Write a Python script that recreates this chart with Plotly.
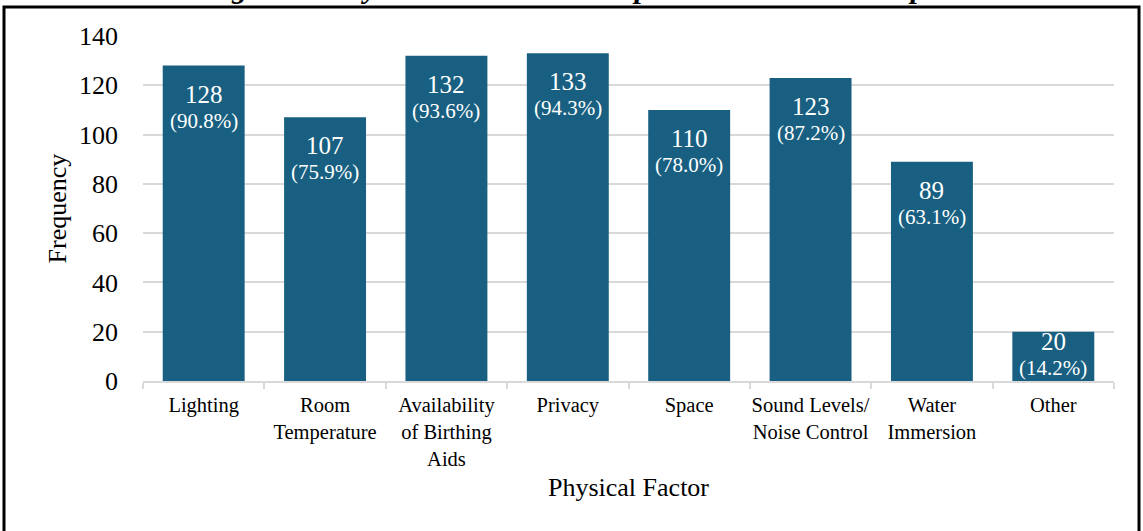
import plotly.graph_objects as go

# Physical factors reported and how many respondents selected each
factors = ["Lighting", "Room<br>Temperature", "Availability<br>of Birthing<br>Aids", "Privacy",
           "Space", "Sound Levels/<br>Noise Control", "Water<br>Immersion", "Other"]
frequency = [128, 107, 132, 133, 110, 123, 89, 20]
percent = [90.8, 75.9, 93.6, 94.3, 78.0, 87.2, 63.1, 14.2]

y_ticks = [0, 20, 40, 60, 80, 100, 120, 140]

SERIF = "Liberation Serif, Times New Roman, serif"
BAR = "#185F81"
GRID = "#D9D9D9"

# Plot-area geometry in pixels
W, H = 1143, 531
M_L, M_R, M_T, M_B = 143, 29, 36, 150
plot_h = H - M_T - M_B
y_max = 140
px_per_unit = plot_h / y_max

fig = go.Figure(go.Bar(
    x=factors, y=frequency,
    marker=dict(color=BAR, line=dict(width=0)),
    hoverinfo="skip",
))

# Value labels inside the top of each bar; short bars push the block upward
annotations = []
for f, v, p in zip(factors, frequency, percent):
    bar_px = v * px_per_unit
    lift = max(0.0, 68 - bar_px)
    annotations.append(dict(
        x=f, y=v, xref="x", yref="y", text=f"{v}", showarrow=False,
        yanchor="top", yshift=-13 + lift,
        font=dict(family=SERIF, size=25, color="white")))
    annotations.append(dict(
        x=f, y=v, xref="x", yref="y", text=f"({p:.1f}%)", showarrow=False,
        yanchor="top", yshift=-41 + lift,
        font=dict(family=SERIF, size=21, color="white")))

# Figure caption sitting just above the frame
annotations.append(dict(
    x=0.48, y=(H - M_B - 6) / plot_h, xref="paper", yref="paper", showarrow=False,
    xanchor="center", yanchor="bottom",
    text="<b><i>Figure 6: Physical Factors that Impact the Childbirth Experience</i></b>",
    font=dict(family=SERIF, size=30, color="black")))

fig.update_layout(
    width=W, height=H,
    margin=dict(l=M_L, r=M_R, t=M_T, b=M_B, autoexpand=False),
    paper_bgcolor="white", plot_bgcolor="white",
    bargap=0.325,
    showlegend=False,
    annotations=annotations,
    font=dict(family=SERIF, color="black"),
    shapes=[dict(
        type="rect", xref="paper", yref="paper",
        x0=(4 - M_L) / (W - M_L - M_R), x1=(1139 - M_L) / (W - M_L - M_R),
        y0=-0.5, y1=(H - M_B - 7) / plot_h,
        line=dict(color="black", width=3), fillcolor="rgba(0,0,0,0)", layer="above")],
)

fig.update_xaxes(
    automargin=False, tickangle=0,
    showline=True, linecolor=GRID, linewidth=1.5,
    ticks="outside", tickson="boundaries", ticklen=6, tickcolor=GRID, tickwidth=1.5,
    ticklabelstandoff=5,
    tickfont=dict(family=SERIF, size=20.5, color="black"),
    title=dict(text="Physical Factor", font=dict(family=SERIF, size=26, color="black"), standoff=9),
    showgrid=False,
)
fig.update_yaxes(
    automargin=False,
    range=[0, y_max], tickvals=y_ticks,
    showgrid=True, gridcolor=GRID, gridwidth=1.5,
    zeroline=False, showline=False,
    ticks="", ticklabelstandoff=24,
    tickfont=dict(family=SERIF, size=26, color="black"),
    title=dict(text="Frequency", font=dict(family=SERIF, size=26, color="black"), standoff=4),
)

fig.write_html("out.html")
